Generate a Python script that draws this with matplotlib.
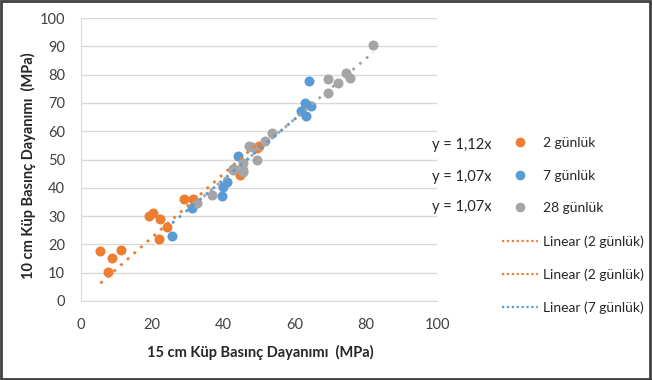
import numpy as np
import matplotlib
matplotlib.use('Agg')
import matplotlib.pyplot as plt
from matplotlib.lines import Line2D
from matplotlib.patches import Rectangle

plt.rcParams['font.family'] = ['Lato', 'DejaVu Sans']

# 2 günlük
x2 = [5.6, 7.6, 8.9, 11.4, 19.2, 20.4, 22.2, 21.9, 24.3, 29.0, 31.6, 44.7, 49.4, 50.0]
y2 = [17.8, 10.1, 15.2, 17.9, 30.1, 31.1, 29.1, 21.9, 26.0, 35.9, 35.9, 44.5, 54.0, 54.8]
# 7 günlük
x7 = [25.7, 31.4, 39.6, 40.0, 41.0, 42.8, 44.2, 61.8, 63.0, 63.2, 64.0, 64.7]
y7 = [23.0, 32.8, 37.1, 40.4, 42.2, 46.6, 51.2, 67.2, 70.1, 65.3, 77.6, 68.9]
# 28 günlük
x28 = [32.6, 36.9, 42.8, 45.6, 45.6, 45.7, 47.3, 48.0, 49.4, 51.8, 53.6, 69.3, 69.3, 72.3, 74.5, 75.6, 82.1]
y28 = [34.7, 37.5, 46.3, 46.3, 48.7, 45.7, 54.8, 54.5, 49.8, 56.5, 59.2, 78.5, 73.6, 77.1, 80.7, 78.9, 90.3]

slopes = [1.12, 1.07, 1.07]
eq_labels = ['y = 1,12x', 'y = 1,07x', 'y = 1,07x']

c_or = '#ED7D31'
c_bl = '#5B9BD5'
c_gr = '#A5A5A5'

fig = plt.figure(figsize=(6.52, 3.80), dpi=100)
ax = fig.add_axes([80.5/652, 1-301/380, (437-80.5)/652, (301-18)/380])

series = [(x2, y2, c_or), (x7, y7, c_bl), (x28, y28, c_gr)]
for (xs, ys, c), k in zip(series, slopes):
    ax.scatter(xs, ys, s=52, color=c, zorder=3, linewidths=0)
for (xs, ys, c), k in zip(series, slopes):
    xx = np.array([min(xs), max(xs)])
    ax.plot(xx, k * xx, color=c, ls=(0, (1, 2.2)), lw=2, zorder=4)

ax.set_xlim(0, 100)
ax.set_ylim(0, 100)
ax.set_xticks(range(0, 101, 20))
ax.set_yticks(range(0, 101, 10))
ax.grid(axis='y', color='#D9D9D9', lw=1)
ax.set_axisbelow(True)
for s in ['top', 'right']:
    ax.spines[s].set_visible(False)
for s in ['left', 'bottom']:
    ax.spines[s].set_color('#D9D9D9')
ax.tick_params(length=0, labelsize=10.5, labelcolor='#404040')
ax.tick_params(axis='x', pad=12)
ax.tick_params(axis='y', pad=11)

fig.text(260/652, 1-352/380, '15 cm Küp Basınç Dayanımı  (MPa)', ha='center', va='center',
         fontsize=10.5, fontweight='bold', color='#262626')
fig.text(28/652, 1-166/380, '10 cm Küp Basınç Dayanımı  (MPa)', ha='center', va='center',
         rotation=90, fontsize=10.5, fontweight='bold', color='#262626')

for lab, yp in zip(eq_labels, [145, 177, 207]):
    fig.text(432/652, 1-yp/380, lab, ha='left', va='center', fontsize=10.5, color='#262626')

handles = [
    Line2D([], [], ls='none', marker='o', ms=7, color=c_or, mew=0),
    Line2D([], [], ls='none', marker='o', ms=7, color=c_bl, mew=0),
    Line2D([], [], ls='none', marker='o', ms=7, color=c_gr, mew=0),
    Line2D([], [], color=c_or, ls=(0, (1, 1.2)), lw=1.6),
    Line2D([], [], color=c_or, ls=(0, (1, 1.2)), lw=1.6),
    Line2D([], [], color=c_bl, ls=(0, (1, 1.2)), lw=1.6),
]
labels = ['2 günlük', '7 günlük', '28 günlük', 'Linear (2 günlük)', 'Linear (2 günlük)', 'Linear (7 günlük)']
fig.legend(handles, labels, loc='upper left', bbox_to_anchor=(495/652, 1-130/380),
           frameon=False, fontsize=10, labelspacing=1.49, handlelength=2.6,
           handletextpad=0.35, borderpad=0, labelcolor='#262626')

fig.patches.append(Rectangle((0.002, 0.003), 0.995, 0.994, transform=fig.transFigure,
                             fill=False, edgecolor='#404040', lw=2))

fig.savefig('out.png', dpi=100)
